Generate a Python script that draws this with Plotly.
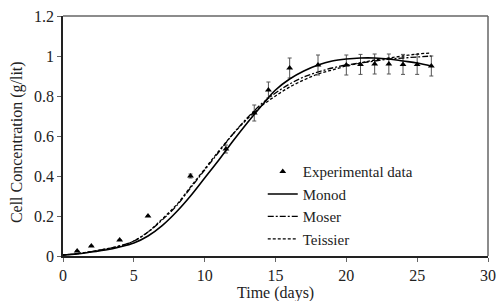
import plotly.graph_objects as go

# Experimental data
exp_t = [1, 2, 4, 6, 9, 11.5, 13.5, 14.5, 16, 18, 20, 21, 22, 23, 24, 25, 26]
exp_c = [0.025, 0.05, 0.08, 0.2, 0.4, 0.535, 0.715, 0.83, 0.94, 0.955, 0.955, 0.958, 0.96, 0.96, 0.958, 0.958, 0.95]
exp_err = [0, 0, 0, 0, 0.01, 0.02, 0.04, 0.04, 0.05, 0.05, 0.05, 0.05, 0.05, 0.05, 0.05, 0.05, 0.05]

# Model curves
model_t = list(range(0, 27))
monod = [0.005, 0.01, 0.02, 0.03, 0.045, 0.065, 0.10, 0.152, 0.22, 0.30, 0.39, 0.48, 0.575, 0.665,
         0.75, 0.83, 0.885, 0.925, 0.955, 0.975, 0.985, 0.99, 0.99, 0.985, 0.975, 0.965, 0.95]
moser = [0.005, 0.012, 0.022, 0.035, 0.05, 0.075, 0.12, 0.18, 0.25, 0.34, 0.43, 0.52, 0.61, 0.69,
         0.76, 0.815, 0.86, 0.895, 0.92, 0.94, 0.955, 0.965, 0.975, 0.985, 0.99, 0.995, 1.0]
teissier = [0.005, 0.012, 0.022, 0.035, 0.05, 0.075, 0.12, 0.185, 0.255, 0.345, 0.435, 0.525, 0.61, 0.685,
            0.75, 0.80, 0.845, 0.88, 0.91, 0.93, 0.95, 0.965, 0.98, 0.99, 1.0, 1.01, 1.015]

x_ticks = [0, 5, 10, 15, 20, 25, 30]
y_ticks = [0, 0.2, 0.4, 0.6, 0.8, 1, 1.2]
y_tick_text = ["0", "0.2", "0.4", "0.6", "0.8", "1", "1.2"]
x_title = "Time (days)"
y_title = "Cell Concentration (g/lit)"

FONT = '"Liberation Serif", "Times New Roman", "DejaVu Serif", serif'

fig = go.Figure()
fig.add_trace(go.Scatter(
    x=exp_t, y=exp_c, mode="markers", name="Experimental data",
    marker=dict(symbol="triangle-up", size=6, color="black"),
    error_y=dict(type="data", array=exp_err, visible=True, color="#555", thickness=1, width=2),
))
fig.add_trace(go.Scatter(x=model_t, y=monod, mode="lines", name="Monod",
                         line=dict(color="black", width=1.6, shape="spline")))
fig.add_trace(go.Scatter(x=model_t, y=moser, mode="lines", name="Moser",
                         line=dict(color="black", width=1.3, dash="6px,2px,2px,2px", shape="spline")))
fig.add_trace(go.Scatter(x=model_t, y=teissier, mode="lines", name="Teissier",
                         line=dict(color="black", width=1.3, dash="3px,2px", shape="spline")))

# grey top/right frame
fig.add_shape(type="line", xref="paper", yref="paper", x0=0, x1=1, y0=1, y1=1,
              line=dict(color="#666", width=1.5))
fig.add_shape(type="line", xref="paper", yref="paper", x0=1, x1=1, y0=0, y1=1,
              line=dict(color="#666", width=1.5))

# axis titles as annotations for exact placement
fig.add_annotation(text=y_title, xref="paper", yref="paper", x=-0.108, y=0.475,
                   textangle=-90, showarrow=False, xanchor="center", yanchor="middle",
                   font=dict(size=16, family=FONT, color="#222"))
fig.add_annotation(text=x_title, xref="paper", yref="paper", x=0.5, y=-0.153,
                   showarrow=False, xanchor="center", yanchor="middle",
                   font=dict(size=16, family=FONT, color="#222"))

fig.update_layout(
    width=499, height=301,
    margin=dict(l=63, r=11, t=16, b=45, autoexpand=False),
    paper_bgcolor="white", plot_bgcolor="white",
    font=dict(family=FONT, size=16, color="#222"),
    showlegend=True,
    legend=dict(x=0.47, y=0.42, xanchor="left", yanchor="top",
                bgcolor="rgba(0,0,0,0)", font=dict(size=15, family=FONT),
                itemwidth=30, tracegroupgap=0),
    xaxis=dict(range=[0, 30], tickvals=x_ticks, ticks="outside", ticklen=4, tickcolor="#666",
               showline=True, linecolor="#222", linewidth=1.5, showgrid=False, zeroline=False,
               automargin=False, ticklabeloverflow="allow",
               tickfont=dict(size=16, family=FONT)),
    yaxis=dict(range=[0, 1.2], tickvals=y_ticks, ticktext=y_tick_text, ticks="outside", ticklen=4,
               tickcolor="#666",
               showline=True, linecolor="#222", linewidth=1.5, showgrid=False, zeroline=False,
               automargin=False, ticklabeloverflow="allow",
               tickfont=dict(size=16, family=FONT)),
)

fig.write_html("out.html", config={"displayModeBar": False},
               post_script="document.body.style.margin='0';document.body.style.overflow='hidden';")
